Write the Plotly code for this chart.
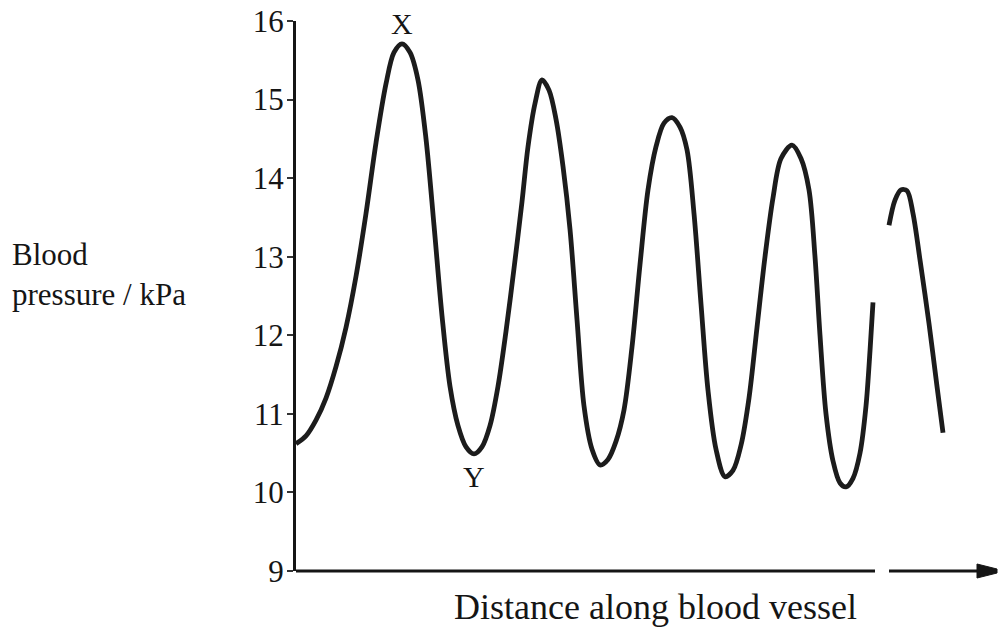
import plotly.graph_objects as go

# Blood pressure (kPa) along the vessel (distance in arbitrary units)
distance_seg1 = [0, 10, 20, 30, 40, 50, 60, 70, 80, 90, 98, 106, 114, 122, 130, 138, 146, 154, 162, 170,
                 178, 186, 194, 202, 210, 218, 226, 232, 239, 246, 253, 260, 267, 274, 281, 288, 296, 304,
                 312, 320, 328, 336, 344, 352, 360, 368, 376, 384, 391, 398, 405, 412, 420, 429, 437, 445,
                 453, 461, 469, 477, 485, 496, 505, 513, 519, 524, 530, 537, 544, 550, 557, 564, 570, 574, 577]
pressure_seg1 = [10.62, 10.72, 10.92, 11.20, 11.60, 12.10, 12.75, 13.55, 14.45, 15.20, 15.60, 15.71, 15.60, 15.25, 14.50, 13.40, 12.25, 11.35, 10.85, 10.58,
                 10.49, 10.58, 10.85, 11.35, 12.05, 12.85, 13.70, 14.40, 14.95, 15.25, 15.12, 14.75, 14.15, 13.35, 12.20, 11.10, 10.55, 10.35,
                 10.42, 10.65, 11.05, 11.85, 12.90, 13.85, 14.40, 14.70, 14.77, 14.65, 14.36, 13.55, 12.40, 11.30, 10.55, 10.20, 10.28, 10.60,
                 11.20, 12.10, 13.00, 13.75, 14.25, 14.42, 14.25, 13.85, 13.00, 12.00, 11.00, 10.40, 10.12, 10.07, 10.18, 10.50, 11.10, 11.80, 12.42]
distance_seg2 = [593, 599, 605, 611, 617, 624, 633, 641, 647]
pressure_seg2 = [13.40, 13.72, 13.85, 13.84, 13.55, 12.96, 12.15, 11.35, 10.76]

pressure_ticks = [9, 10, 11, 12, 13, 14, 15, 16]

# point labels
label_names = ["X", "Y"]
label_distance = [106, 178]
label_pressure = [15.97, 10.20]

FONT = "Liberation Serif"
INK = "#151515"

fig = go.Figure()
fig.add_trace(go.Scatter(
    x=distance_seg1 + [None] + distance_seg2,
    y=pressure_seg1 + [None] + pressure_seg2,
    mode="lines",
    line=dict(color="#1c1c1c", width=4.8, shape="spline", smoothing=0.9),
    connectgaps=False,
    hoverinfo="skip",
))

for name, dx, py in zip(label_names, label_distance, label_pressure):
    fig.add_annotation(x=dx, y=py, xref="x", yref="y", text=name, showarrow=False,
                       font=dict(family=FONT, size=30, color=INK), xanchor="center", yanchor="middle")

W, H = 998, 630
ML, MR, MT, MB = 296, 0, 21, 59
PW = W - ML - MR
PH = H - MT - MB

def px_x(p):
    return (p - ML) / PW

def px_y(p):
    return (H - MB - p) / PH

# x axis drawn with a break and an arrow head
fig.add_shape(type="line", xref="paper", yref="paper", x0=px_x(296), x1=px_x(875), y0=0, y1=0,
              line=dict(color=INK, width=3))
fig.add_shape(type="line", xref="paper", yref="paper", x0=px_x(889), x1=px_x(980), y0=0, y1=0,
              line=dict(color=INK, width=3))
fig.add_shape(type="path", xref="paper", yref="paper",
              path=(f"M {px_x(977)},{px_y(564)} L {px_x(997)},{px_y(569)} L {px_x(997)},{px_y(573)} "
                    f"L {px_x(977)},{px_y(578)} Z"),
              fillcolor=INK, line=dict(color=INK, width=1))

# axis titles as plain horizontal text
fig.add_annotation(xref="paper", yref="paper", x=px_x(10), y=px_y(274), text="Blood<br>pressure / kPa",
                   showarrow=False, align="left", xanchor="left", yanchor="middle",
                   font=dict(family=FONT, size=31, color=INK))
fig.add_annotation(xref="paper", yref="paper", x=px_x(655), y=px_y(607), text="Distance along blood vessel",
                   showarrow=False, xanchor="center", yanchor="middle", font=dict(family=FONT, size=36, color=INK))

fig.update_xaxes(range=[0, PW], showgrid=False, zeroline=False, showline=False,
                 showticklabels=False, ticks="", fixedrange=True)
fig.update_yaxes(range=[9, 16], tickvals=pressure_ticks, ticktext=[str(t) for t in pressure_ticks],
                 showgrid=False, zeroline=False, showline=True, linecolor=INK, linewidth=3,
                 ticks="outside", ticklen=6, tickwidth=1.5, tickcolor="#333333",
                 tickfont=dict(family=FONT, size=31, color=INK), ticklabelstandoff=-3, fixedrange=True)

fig.update_layout(width=W, height=H, margin=dict(l=ML, r=MR, t=MT, b=MB, pad=0),
                  plot_bgcolor="white", paper_bgcolor="white", showlegend=False)

fig.write_html("out.html", config={"displayModeBar": False},
               post_script="document.body.style.margin='0';document.body.style.overflow='hidden';")
